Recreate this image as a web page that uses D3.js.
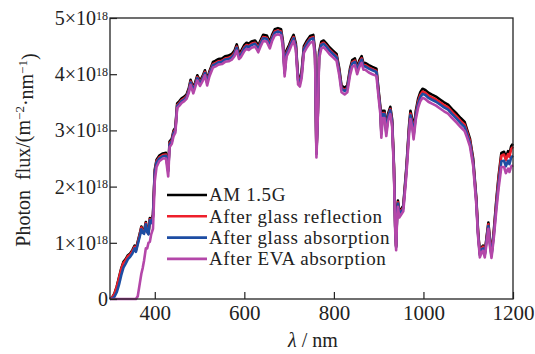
<!DOCTYPE html>
<html>
<head>
<meta charset="utf-8">
<script src="https://cdn.jsdelivr.net/npm/d3@7"></script>
<style>
  body { margin: 0; background: #fff; }
  svg { display: block; }
</style>
</head>
<body>
<svg width="535" height="354"></svg>
<script>
// wavelength in nm, photon flux in units of 1e18 m^-2 nm^-1
const wavelengths = [
  300, 305, 310, 315, 320, 325, 330, 335, 340, 345, 350, 355, 358, 362, 367, 370, 373, 376, 380, 383,
  386, 389, 392, 396, 400, 404, 410, 418, 425, 430, 433, 438, 442, 446, 450, 455, 460, 466, 471, 476,
  480, 486, 490, 495, 501, 507, 512, 517, 522, 530, 536, 542, 550, 557, 565, 572, 578, 583, 588, 592,
  600, 605, 610, 616, 624, 628, 631, 636, 642, 650, 657, 662, 668, 675, 682, 686, 690, 694, 700, 705,
  710, 715, 720, 724, 728, 733, 740, 747, 754, 758, 761, 764, 767, 772, 777, 783, 790, 798, 806, 812,
  817, 824, 830, 836, 841, 847, 852, 857, 862, 866, 870, 878, 886, 895, 900, 904, 906, 909, 913, 917,
  921, 926, 930, 934, 937, 939, 941, 943, 946, 950, 955, 962, 968, 971, 975, 978, 983, 988, 993, 998,
  1004, 1011, 1018, 1028, 1037, 1046, 1055, 1064, 1074, 1083, 1092, 1098, 1104, 1111, 1118, 1122, 1126, 1130, 1133, 1137,
  1141, 1145, 1149, 1152, 1157, 1163, 1168, 1174, 1180, 1184, 1189, 1192, 1196, 1200
];

const am15g = [
  0, 0.03, 0.1, 0.22, 0.38, 0.54, 0.66, 0.71, 0.78, 0.81, 0.87, 0.95, 0.89, 1.02, 1.18, 1.29, 1.22, 1.2, 1.37, 1.22,
  1.18, 1.44, 1.38, 1.5, 2.3, 2.48, 2.55, 2.59, 2.6, 2.32, 2.8, 2.85, 3.0, 3.05, 3.48, 3.52, 3.57, 3.6, 3.64, 3.75,
  3.9, 3.76, 3.85, 3.98, 3.88, 3.97, 4.07, 3.9, 4.05, 4.22, 4.24, 4.27, 4.28, 4.32, 4.33, 4.36, 4.42, 4.53, 4.38, 4.4,
  4.52, 4.56, 4.54, 4.58, 4.6, 4.55, 4.5, 4.6, 4.7, 4.69, 4.57, 4.7, 4.8, 4.82, 4.8, 4.6, 4.08, 4.42, 4.52, 4.62,
  4.7, 4.55, 3.95, 3.9, 4.05, 4.5, 4.6, 4.68, 4.7, 4.4, 2.62, 3.3, 4.4, 4.58, 4.6, 4.55, 4.48, 4.42, 4.36, 4.1,
  3.8, 3.76, 3.8, 4.1, 4.25, 4.28, 4.12, 4.25, 4.32, 4.2, 4.2, 4.16, 4.13, 4.1, 3.7, 3.4, 3.0, 3.35, 3.35, 3.02,
  3.3, 3.42, 3.2, 2.4, 1.3, 0.95, 1.5, 1.75, 1.55, 1.6, 1.66, 2.35, 3.1, 3.35, 3.2, 2.98, 3.35, 3.56, 3.68, 3.74,
  3.72, 3.67, 3.64, 3.6, 3.55, 3.5, 3.46, 3.38, 3.3, 3.22, 3.15, 3.0, 2.85, 2.5, 1.8, 1.2, 0.82, 0.92, 0.95, 0.82,
  1.1, 1.36, 1.0, 0.82, 1.2, 1.78, 2.2, 2.6, 2.62, 2.52, 2.63, 2.58, 2.72, 2.76
];

const glassReflection = [
  0, 0.03, 0.09, 0.21, 0.37, 0.53, 0.64, 0.69, 0.76, 0.79, 0.85, 0.93, 0.87, 1.0, 1.16, 1.27, 1.2, 1.18, 1.35, 1.2,
  1.16, 1.42, 1.36, 1.48, 2.27, 2.45, 2.52, 2.56, 2.57, 2.29, 2.77, 2.82, 2.97, 3.02, 3.45, 3.49, 3.54, 3.57, 3.61, 3.72,
  3.87, 3.73, 3.82, 3.95, 3.85, 3.94, 4.04, 3.87, 4.02, 4.18, 4.2, 4.23, 4.24, 4.28, 4.29, 4.32, 4.38, 4.49, 4.34, 4.36,
  4.48, 4.52, 4.5, 4.54, 4.56, 4.51, 4.46, 4.56, 4.66, 4.65, 4.53, 4.66, 4.76, 4.78, 4.76, 4.56, 4.04, 4.38, 4.48, 4.58,
  4.66, 4.51, 3.91, 3.86, 4.01, 4.46, 4.56, 4.64, 4.66, 4.36, 2.59, 3.27, 4.36, 4.54, 4.56, 4.51, 4.44, 4.38, 4.32, 4.06,
  3.76, 3.72, 3.76, 4.06, 4.21, 4.24, 4.08, 4.21, 4.28, 4.16, 4.16, 4.12, 4.09, 4.06, 3.66, 3.36, 2.96, 3.31, 3.31, 2.98,
  3.26, 3.38, 3.16, 2.37, 1.28, 0.93, 1.48, 1.72, 1.52, 1.57, 1.63, 2.31, 3.05, 3.3, 3.15, 2.93, 3.3, 3.51, 3.63, 3.69,
  3.67, 3.62, 3.59, 3.55, 3.5, 3.45, 3.41, 3.33, 3.25, 3.17, 3.1, 2.96, 2.81, 2.46, 1.77, 1.18, 0.8, 0.9, 0.93, 0.8,
  1.08, 1.33, 0.98, 0.8, 1.17, 1.74, 2.15, 2.55, 2.57, 2.47, 2.58, 2.53, 2.67, 2.71
];

const glassAbsorption = [
  0, 0.01, 0.04, 0.12, 0.25, 0.42, 0.56, 0.63, 0.71, 0.75, 0.81, 0.9, 0.84, 0.97, 1.13, 1.24, 1.18, 1.16, 1.33, 1.19,
  1.15, 1.4, 1.35, 1.46, 2.25, 2.43, 2.5, 2.54, 2.55, 2.27, 2.75, 2.8, 2.95, 3.0, 3.43, 3.47, 3.52, 3.55, 3.59, 3.7,
  3.85, 3.71, 3.8, 3.93, 3.83, 3.92, 4.02, 3.85, 4.0, 4.16, 4.18, 4.21, 4.22, 4.26, 4.27, 4.3, 4.36, 4.47, 4.32, 4.34,
  4.46, 4.5, 4.48, 4.52, 4.54, 4.49, 4.44, 4.54, 4.64, 4.63, 4.51, 4.64, 4.74, 4.76, 4.74, 4.54, 4.02, 4.36, 4.46, 4.56,
  4.64, 4.49, 3.89, 3.84, 3.99, 4.44, 4.54, 4.62, 4.64, 4.34, 2.58, 3.25, 4.34, 4.52, 4.54, 4.49, 4.42, 4.36, 4.3, 4.04,
  3.74, 3.7, 3.74, 4.04, 4.19, 4.22, 4.06, 4.19, 4.26, 4.14, 4.14, 4.1, 4.07, 4.04, 3.64, 3.34, 2.94, 3.29, 3.29, 2.96,
  3.24, 3.36, 3.14, 2.35, 1.26, 0.92, 1.46, 1.7, 1.5, 1.55, 1.61, 2.29, 3.02, 3.27, 3.12, 2.9, 3.27, 3.47, 3.59, 3.65,
  3.63, 3.58, 3.55, 3.51, 3.46, 3.41, 3.37, 3.29, 3.21, 3.13, 3.06, 2.92, 2.77, 2.43, 1.74, 1.15, 0.78, 0.88, 0.9, 0.78,
  1.05, 1.3, 0.95, 0.77, 1.13, 1.68, 2.07, 2.45, 2.46, 2.36, 2.46, 2.4, 2.52, 2.55
];

const evaAbsorption = [
  0, 0, 0, 0, 0, 0, 0, 0, 0, 0, 0, 0, 0, 0.05, 0.3, 0.45, 0.55, 0.68, 0.9, 0.9,
  1.0, 1.02, 1.15, 1.25, 2.1, 2.35, 2.45, 2.5, 2.5, 2.18, 2.7, 2.76, 2.9, 2.96, 3.4, 3.44, 3.49, 3.52, 3.56, 3.67,
  3.81, 3.66, 3.76, 3.89, 3.79, 3.88, 3.98, 3.8, 3.96, 4.12, 4.14, 4.17, 4.18, 4.22, 4.23, 4.26, 4.32, 4.42, 4.27, 4.3,
  4.41, 4.45, 4.43, 4.47, 4.49, 4.44, 4.39, 4.49, 4.59, 4.58, 4.46, 4.59, 4.69, 4.71, 4.69, 4.49, 3.96, 4.31, 4.41, 4.51,
  4.59, 4.44, 3.82, 3.78, 3.93, 4.38, 4.48, 4.56, 4.58, 4.28, 2.52, 3.2, 4.28, 4.46, 4.48, 4.43, 4.36, 4.3, 4.24, 3.98,
  3.68, 3.64, 3.68, 3.98, 4.13, 4.16, 4.0, 4.13, 4.2, 4.08, 4.08, 4.03, 4.0, 3.97, 3.57, 3.27, 2.87, 3.22, 3.22, 2.9,
  3.17, 3.29, 3.07, 2.3, 1.2, 0.87, 1.4, 1.64, 1.45, 1.5, 1.56, 2.22, 2.95, 3.2, 3.05, 2.84, 3.2, 3.4, 3.52, 3.58,
  3.56, 3.51, 3.48, 3.44, 3.39, 3.34, 3.3, 3.22, 3.14, 3.06, 2.99, 2.86, 2.71, 2.37, 1.69, 1.11, 0.74, 0.83, 0.86, 0.74,
  1.0, 1.25, 0.9, 0.73, 1.08, 1.6, 1.98, 2.35, 2.35, 2.24, 2.32, 2.26, 2.36, 2.38
];

const seriesNames = ['AM 1.5G', 'After glass reflection', 'After glass absorption', 'After EVA absorption'];
const seriesColors = ['#000000', '#ee1f2b', '#1d4da3', '#b447a9'];
const xTicks = [400, 600, 800, 1000, 1200];
const yTicks = [0, 1, 2, 3, 4, 5];

(function (d3) {

  const svg = d3.select('svg');
  const font = '"Liberation Serif", "Times New Roman", serif';
  const ink = '#222';

  const margin = { top: 18, right: 22, bottom: 55, left: 110 };
  const width = +svg.attr('width');
  const height = +svg.attr('height');
  const innerWidth = width - margin.left - margin.right;
  const innerHeight = height - margin.top - margin.bottom;

  const xScale = d3.scaleLinear()
    .domain([300, 1200])
    .range([0, innerWidth]);

  const yScale = d3.scaleLinear()
    .domain([0, 5])
    .range([innerHeight, 0]);

  const g = svg.append('g')
    .attr('transform', `translate(${margin.left},${margin.top})`);

  // curves, black underneath, magenta on top
  const allSeries = [am15g, glassReflection, glassAbsorption, evaAbsorption];
  const line = d3.line()
    .x((d, i) => xScale(wavelengths[i]))
    .y(d => yScale(d));

  g.selectAll('.curve').data(allSeries)
    .enter().append('path')
      .attr('class', 'curve')
      .attr('d', line)
      .attr('fill', 'none')
      .attr('stroke', (d, i) => seriesColors[i])
      .attr('stroke-width', 2.6)
      .attr('stroke-linejoin', 'round');

  // axes with inward ticks
  const xAxis = d3.axisBottom(xScale)
    .tickValues(xTicks)
    .tickSize(-7)
    .tickPadding(6)
    .tickFormat(d3.format('d'));

  const xAxisG = g.append('g')
    .attr('transform', `translate(0,${innerHeight})`)
    .call(xAxis);
  xAxisG.select('.domain').remove();
  xAxisG.selectAll('line').attr('stroke', ink).attr('stroke-width', 1.2);
  xAxisG.selectAll('text')
    .attr('fill', ink)
    .style('font-family', font)
    .style('font-size', '21px');

  const yAxis = d3.axisLeft(yScale)
    .tickValues(yTicks)
    .tickSize(-7)
    .tickPadding(2);

  const yAxisG = g.append('g').call(yAxis);
  yAxisG.select('.domain').remove();
  yAxisG.selectAll('line').attr('stroke', ink).attr('stroke-width', 1.2);
  yAxisG.selectAll('text')
    .attr('fill', ink)
    .style('font-family', font)
    .style('font-size', '20px')
    .text(null)
    .each(function (d) {
      const t = d3.select(this);
      if (d === 0) {
        t.text('0');
        return;
      }
      t.append('tspan').text(d + '×10');
      t.append('tspan')
        .attr('dy', '-0.45em')
        .style('font-size', '12px')
        .text('18');
    });

  // frame
  g.append('rect')
    .attr('width', innerWidth)
    .attr('height', innerHeight)
    .attr('fill', 'none')
    .attr('stroke', ink)
    .attr('stroke-width', 1.3);

  // legend
  const legend = g.append('g')
    .attr('transform', `translate(${167 - margin.left},${195 - margin.top})`);

  const legendRow = legend.selectAll('g').data(seriesNames)
    .enter().append('g')
      .attr('transform', (d, i) => `translate(0,${i * 21.3})`);

  legendRow.append('line')
    .attr('x1', 0).attr('x2', 40)
    .attr('stroke', (d, i) => seriesColors[i])
    .attr('stroke-width', 2.6);

  legendRow.append('text')
    .attr('x', 42)
    .attr('dy', '0.33em')
    .attr('fill', ink)
    .style('font-family', font)
    .style('font-size', '19px')
    .style('letter-spacing', '0.6px')
    .text(d => d);

  // axis titles
  const xTitle = svg.append('text')
    .attr('x', 313)
    .attr('y', 347)
    .attr('text-anchor', 'middle')
    .attr('fill', ink)
    .style('font-family', font)
    .style('font-size', '20px');
  xTitle.append('tspan').style('font-style', 'italic').text('λ');
  xTitle.append('tspan').text(' / nm');

  const yTitle = svg.append('text')
    .attr('transform', 'translate(30,150) rotate(-90)')
    .attr('text-anchor', 'middle')
    .attr('fill', ink)
    .style('font-family', font)
    .style('font-size', '20px')
    .style('white-space', 'pre');
  yTitle.append('tspan').text('Photon  flux/(m');
  yTitle.append('tspan').attr('dy', '-0.45em').style('font-size', '13px').text('−2');
  yTitle.append('tspan').attr('dy', '0.45em').text('·nm');
  yTitle.append('tspan').attr('dy', '-0.45em').style('font-size', '13px').text('−1');
  yTitle.append('tspan').attr('dy', '0.45em').text(')');

}(d3));
</script>
</body>
</html>
